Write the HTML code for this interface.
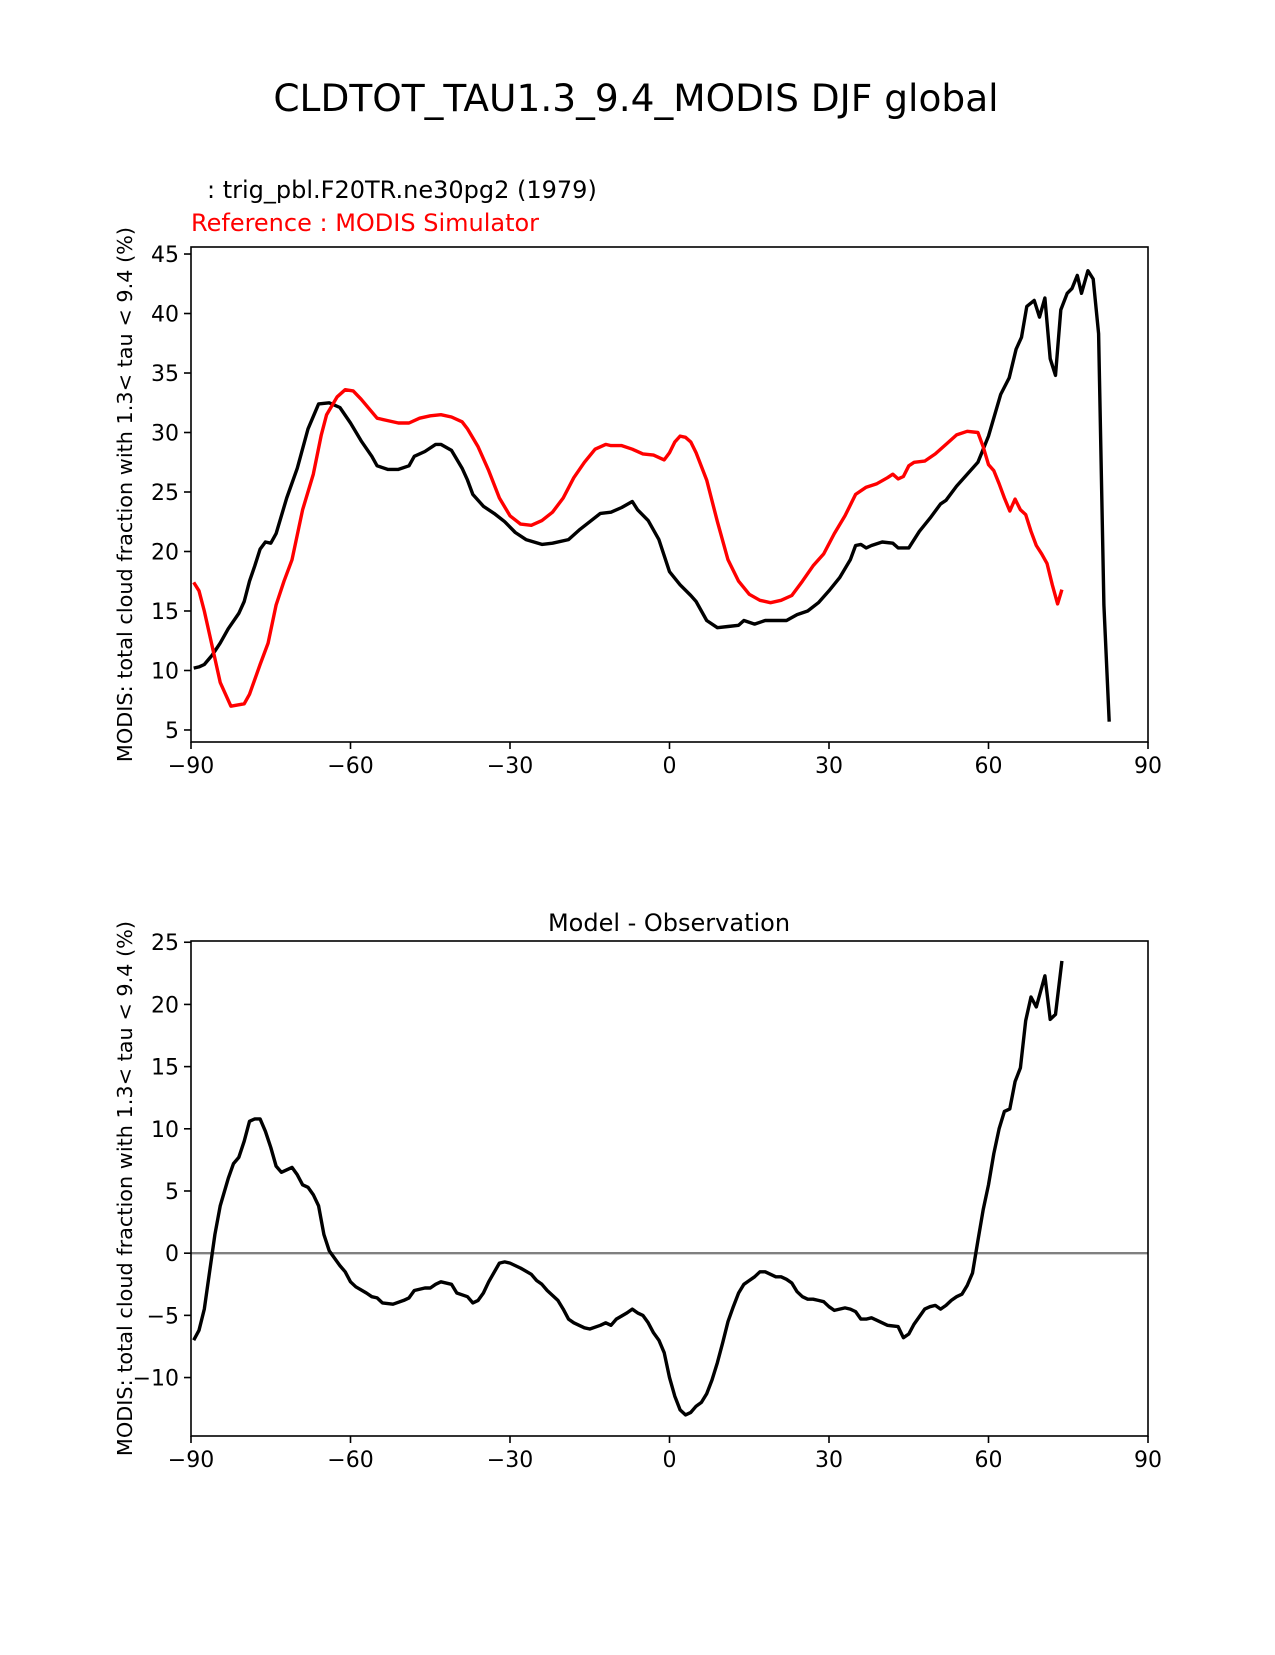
<!DOCTYPE html>
<html><head><meta charset="utf-8"><style>
body{margin:0;background:#fff}
svg text{font-family:"DejaVu Sans","Liberation Sans",sans-serif}
</style></head><body>
<svg id="c" width="1275" height="1650" xmlns="http://www.w3.org/2000/svg">
<rect width="1275" height="1650" fill="#fff"/>
<text x="636" y="111" font-size="37.5" text-anchor="middle">CLDTOT_TAU1.3_9.4_MODIS DJF global</text>
<text x="207" y="198" font-size="24">: trig_pbl.F20TR.ne30pg2 (1979)</text>
<text x="191" y="231" font-size="24" fill="#ff0000">Reference : MODIS Simulator</text>
<text x="669" y="931" font-size="24" text-anchor="middle">Model - Observation</text>
<g id="g"></g>
</svg>
<script>
const lat = [-89.5,-88.5,-87.5,-86,-84.5,-83,-81,-80,-79,-78,-77,-76,-75,-74,-72,-70,-68,-66,-64,-62,-60,-58,-56,-55,-53,-51,-49,-48,-46,-44,-43,-41,-39,-38,-37,-35,-33,-31,-29,-27,-24,-22,-19,-17,-15,-13,-11,-9,-7,-6,-4,-2,0,2,4,5,6,7,9,11,13,14,16,18,20,22,24,26,28,30,32,34,35,36,37,38,40,42,43,45,47,49,51,52,54,56,58,60,62.3,63.9,65.2,66.2,67.2,68.6,69.6,70.6,71.6,72.6,73.6,74.8,75.7,76.7,77.5,78.7,79.7,80.7,81.7,82.7];
const model = [10.2,10.3,10.5,11.3,12.3,13.5,14.8,15.8,17.5,18.8,20.2,20.8,20.7,21.5,24.5,27,30.3,32.4,32.5,32.1,30.8,29.3,28,27.2,26.9,26.9,27.2,28,28.4,29,29,28.5,27,26,24.8,23.8,23.2,22.5,21.6,21,20.6,20.7,21,21.8,22.5,23.2,23.3,23.7,24.2,23.5,22.6,21,18.3,17.2,16.3,15.8,15,14.2,13.6,13.7,13.8,14.2,13.9,14.2,14.2,14.2,14.7,15,15.7,16.7,17.8,19.3,20.5,20.6,20.3,20.5,20.8,20.7,20.3,20.3,21.7,22.8,24,24.3,25.5,26.5,27.5,29.7,33.2,34.6,37,38,40.6,41.1,39.7,41.3,36.2,34.8,40.3,41.7,42.1,43.2,41.7,43.6,42.9,38.3,15.5,5.7];
const latObs = [-89.5,-88.5,-87.5,-86,-84.5,-83,-82.5,-80,-79,-77,-75.5,-74,-72.5,-71,-69,-67,-65.5,-64.5,-62.5,-61,-59.5,-58,-56.5,-55,-53,-51,-49,-47,-45,-43,-41,-39,-38,-36,-34,-32,-30,-28,-26,-24,-22,-20,-18,-16,-14,-12,-11,-9,-7,-5,-3,-1,0,1,2,3,4,5,7,9,11,13,15,17,19,21,23,25,27,29,31,33,35,37,39,41,42,43,44,45,46,48,50,52,54,56,58,59,60,61,62,63,64,65,66,67,68,69,70,71,72,73,73.8];
const obs = [17.4,16.7,15,12,9,7.5,7,7.2,8,10.5,12.3,15.5,17.5,19.3,23.5,26.5,29.8,31.5,33,33.6,33.5,32.8,32,31.2,31,30.8,30.8,31.2,31.4,31.5,31.3,30.9,30.3,28.8,26.8,24.5,23,22.3,22.2,22.6,23.3,24.5,26.2,27.5,28.6,29,28.9,28.9,28.6,28.2,28.1,27.7,28.3,29.2,29.7,29.6,29.2,28.3,26,22.5,19.3,17.5,16.4,15.9,15.7,15.9,16.3,17.5,18.8,19.8,21.5,23,24.8,25.4,25.7,26.2,26.5,26.1,26.3,27.2,27.5,27.6,28.2,29,29.8,30.1,30,28.8,27.3,26.8,25.7,24.5,23.4,24.4,23.5,23.1,21.7,20.5,19.8,19,17.2,15.6,16.8];
const latDiff = [-89.5,-88.5,-87.5,-86.5,-85.5,-84.5,-83,-82,-81,-80,-79,-78,-77,-76,-75,-74,-73,-71,-70,-69,-68,-67,-66,-65,-64,-62,-61,-60,-59,-57,-56,-55,-54,-52,-50,-49,-48,-46,-45,-44,-43,-41,-40,-38,-37,-36,-35,-34,-32,-31,-30,-29,-28,-26,-25,-24,-23,-21,-20,-19,-18,-16,-15,-13,-12,-11,-10,-8,-7,-6,-5,-4,-3,-2,-1,0,1,2,3,4,5,6,7,8,9,10,11,12,13,14,15,16,17,18,19,20,21,22,23,24,25,26,27,28,29,30,31,32,33,34,35,36,37,38,39,40,41,43,44,45,46,47,48,49,50,51,52,53,54,55,56,57,58,59,60,61,62,63,64,65,66,67,68,69,70.6,71.6,72.6,73.8];
const diff = [-7,-6.2,-4.5,-1.5,1.5,3.8,6,7.2,7.7,9,10.6,10.8,10.8,9.8,8.5,7,6.5,6.9,6.3,5.5,5.3,4.7,3.8,1.5,0.2,-1,-1.5,-2.3,-2.7,-3.2,-3.5,-3.6,-4,-4.1,-3.8,-3.6,-3,-2.8,-2.8,-2.5,-2.3,-2.5,-3.2,-3.5,-4,-3.8,-3.2,-2.3,-0.8,-0.7,-0.8,-1,-1.2,-1.7,-2.2,-2.5,-3,-3.8,-4.5,-5.3,-5.6,-6,-6.1,-5.8,-5.6,-5.8,-5.3,-4.8,-4.5,-4.8,-5,-5.6,-6.4,-7,-8,-10,-11.5,-12.6,-13,-12.8,-12.3,-12,-11.3,-10.2,-8.8,-7.2,-5.5,-4.3,-3.2,-2.5,-2.2,-1.9,-1.5,-1.5,-1.7,-1.9,-1.9,-2.1,-2.4,-3.1,-3.5,-3.7,-3.7,-3.8,-3.9,-4.3,-4.6,-4.5,-4.4,-4.5,-4.7,-5.3,-5.3,-5.2,-5.4,-5.6,-5.8,-5.9,-6.8,-6.5,-5.7,-5.1,-4.5,-4.3,-4.2,-4.5,-4.2,-3.8,-3.5,-3.3,-2.6,-1.6,1,3.5,5.5,8,10,11.4,11.6,13.8,14.9,18.7,20.6,19.8,22.3,18.8,19.2,23.5];
const xTicks = [-90,-60,-30,0,30,60,90];
const yTicksTop = [5,10,15,20,25,30,35,40,45];
const yTicksBot = [-10,-5,0,5,10,15,20,25];

const NS='http://www.w3.org/2000/svg';
const g=document.getElementById('g');
function el(t,a,p){const e=document.createElementNS(NS,t);for(const k in a)e.setAttribute(k,a[k]);(p||g).appendChild(e);return e;}
const X0=191,X1=1148;
const xs=v=>X0+(v+90)/180*(X1-X0);
function axes(top,bot,ymin,ymax,yt,name){
  const ys=v=>bot-(v-ymin)/(ymax-ymin)*(bot-top);
  const grp=el('g',{});
  
  
  xTicks.forEach(t=>{
    el('line',{x1:xs(t),x2:xs(t),y1:bot,y2:bot+7,stroke:'#000','stroke-width':1.6},grp);
    const tx=el('text',{x:xs(t),y:bot+31,'font-size':22,'text-anchor':'middle'},grp);
    tx.textContent=(t<0?'\u2212'+(-t):t);
    
    
  });
  yt.forEach(t=>{
    el('line',{x1:X0-7,x2:X0,y1:ys(t),y2:ys(t),stroke:'#000','stroke-width':1.6},grp);
    const tx=el('text',{x:X0-12,y:ys(t)+8,'font-size':22,'text-anchor':'end'},grp);
    tx.textContent=(t<0?'\u2212'+(-t):t);
    
    
  });
  const yl=el('text',{x:0,y:0,'font-size':20.8,'text-anchor':'middle',transform:`translate(132,${(top+bot)/2}) rotate(-90)`},grp);
  yl.textContent='MODIS: total cloud fraction with 1.3< tau < 9.4 (%)';
  
  
  return {ys,grp,top,bot};
}
function line(xsArr,ysArr,ax,color,name){
  const d=xsArr.map((v,i)=>(i?'L':'M')+xs(v).toFixed(1)+','+ax.ys(ysArr[i]).toFixed(1)).join('');
  const p=el('path',{d,fill:'none',stroke:color,'stroke-width':3.4,'stroke-linejoin':'round'},ax.grp);
  
  
}
function frame(ax){
  const r=el('rect',{x:X0,y:ax.top,width:X1-X0,height:ax.bot-ax.top,fill:'none',stroke:'#000','stroke-width':1.6},ax.grp);
  
  
}
const a1=axes(247,742,3.99,45.59,yTicksTop,'top-panel');
line(lat,model,a1,'#000','model-line');
line(latObs,obs,a1,'#ff0000','reference-line');
frame(a1);
const a2=axes(941,1436,-14.7,25.1,yTicksBot,'diff-panel');
const zl=el('line',{x1:X0,x2:X1,y1:a2.ys(0),y2:a2.ys(0),stroke:'#808080','stroke-width':2.4},a2.grp);


line(latDiff,diff,a2,'#000','difference-line');
frame(a2);
</script>
</body></html>
